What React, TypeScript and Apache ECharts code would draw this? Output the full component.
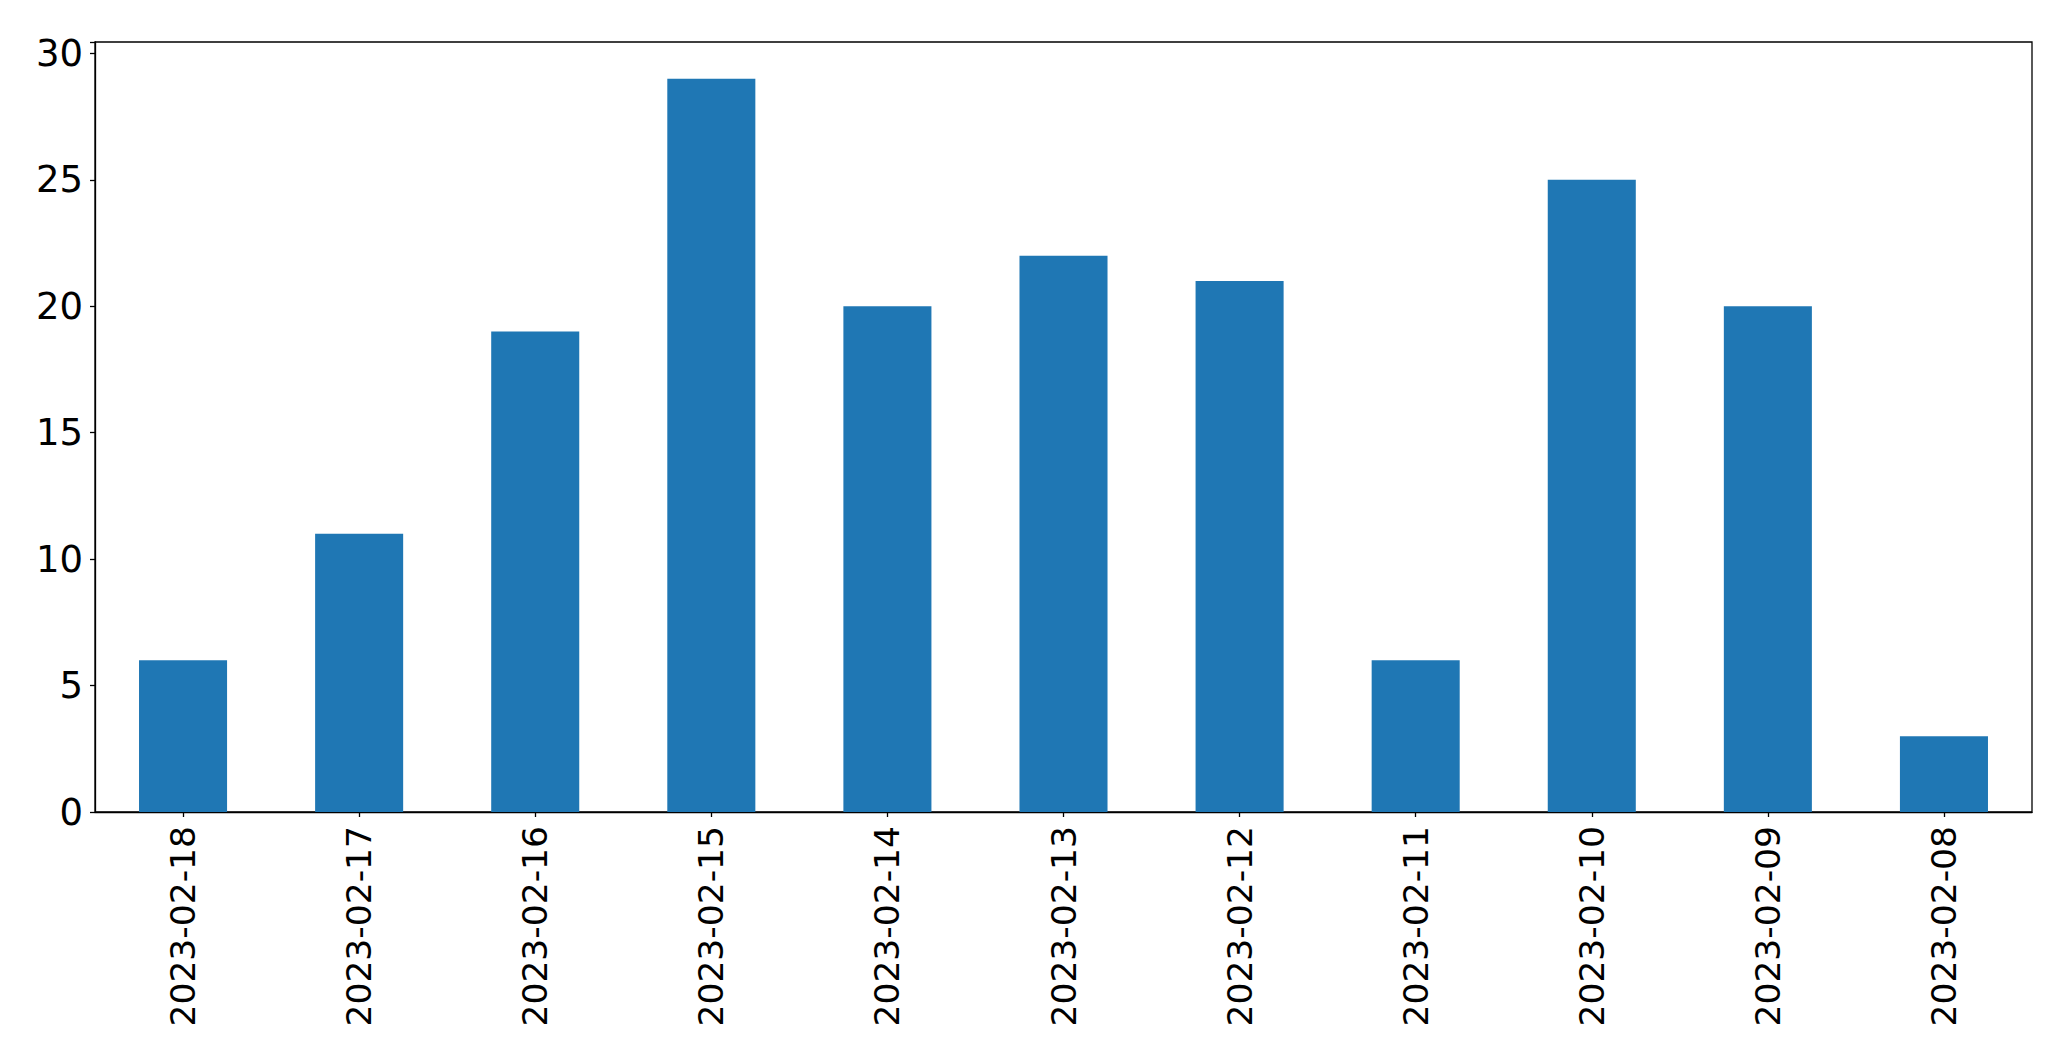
import React, { useEffect, useRef } from "react";
import * as echarts from "echarts";

const categories = [
  "2023-02-18", "2023-02-17", "2023-02-16", "2023-02-15", "2023-02-14", "2023-02-13",
  "2023-02-12", "2023-02-11", "2023-02-10", "2023-02-09", "2023-02-08",
];
const values = [6, 11, 19, 29, 20, 22, 21, 6, 25, 20, 3];
const yTicks = [0, 5, 10, 15, 20, 25, 30];

export default function App() {
  const ref = useRef<HTMLDivElement>(null);
  useEffect(() => {
    if (!ref.current) return;
    const chart = echarts.init(ref.current, undefined, { renderer: "svg" });
    const font = "DejaVu Sans";
    chart.setOption({
      animation: false,
      grid: {
        left: 95, top: 42, width: 1937, height: 770,
        show: true, borderColor: "#000", borderWidth: 1.3, backgroundColor: "transparent",
      },
      xAxis: {
        type: "category",
        data: categories,
        boundaryGap: true,
        axisLine: { show: true, lineStyle: { color: "#000", width: 1.3 } },
        axisTick: { show: true, alignWithLabel: true, length: 5, lineStyle: { color: "#000", width: 1.3 } },
        axisLabel: { rotate: 90, color: "#000", fontSize: 34.5, fontFamily: font, margin: 14, interval: 0 },
        splitLine: { show: false },
      },
      yAxis: {
        type: "value",
        min: 0,
        max: 30.45,
        interval: 5,
        axisLine: { show: true, lineStyle: { color: "#000", width: 1.3 } },
        axisTick: { show: true, length: 5, lineStyle: { color: "#000", width: 1.3 } },
        axisLabel: {
          color: "#000", fontSize: 37, fontFamily: font, margin: 12,
          formatter: (v: number) => (yTicks.includes(v) ? String(v) : ""),
        },
        splitLine: { show: false },
      },
      series: [
        {
          type: "bar",
          data: values,
          barWidth: "50%",
          itemStyle: { color: "#1f77b4" },
        },
      ],
    });
    return () => chart.dispose();
  }, []);
  return (
    <div
      ref={ref}
      style={{ position: "fixed", left: 0, top: 0, width: 2071, height: 1064, background: "#fff" }}
    />
  );
}
